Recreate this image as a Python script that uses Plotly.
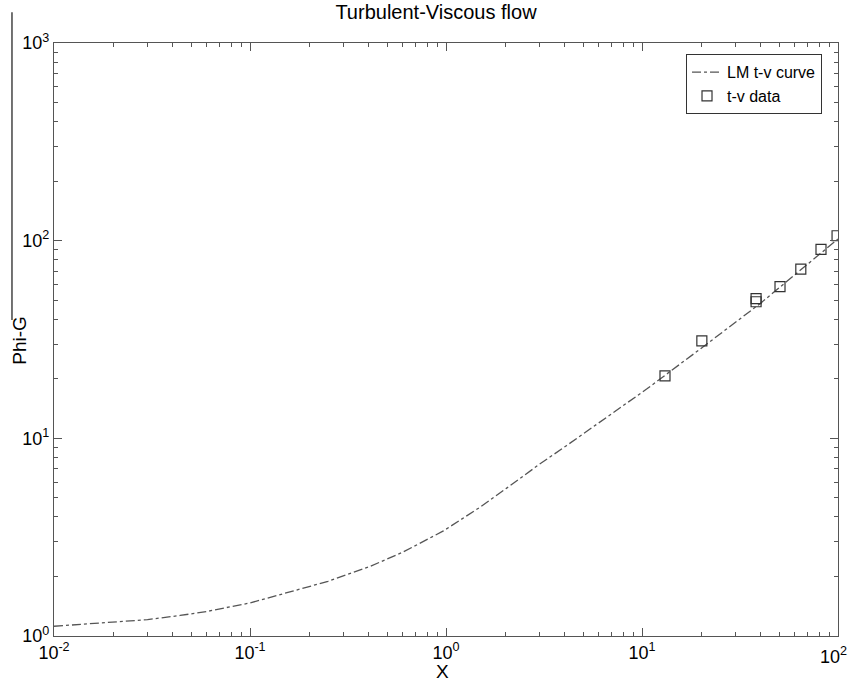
import plotly.graph_objects as go

# LM t-v curve
curve_x = [0.01, 0.02, 0.03, 0.044, 0.06, 0.1, 0.18, 0.25, 0.41, 0.6, 0.97, 1.5, 2.04, 3.0, 4.13, 6.0, 10.6, 20, 40, 100]
curve_y = [1.12, 1.17, 1.21, 1.27, 1.33, 1.47, 1.72, 1.89, 2.25, 2.65, 3.4, 4.5, 5.6, 7.4, 9.2, 12.0, 17.8, 28.5, 48, 102]

# t-v data
data_x = [13.1, 20.2, 38.2, 38.2, 50.6, 64.6, 81.9, 98.9]
data_y = [20.7, 31.1, 50.9, 49.1, 58.5, 71.8, 90.3, 105.9]

x_tickvals = [0.01, 0.1, 1, 10, 100]
x_ticktext = ["10<sup>-2</sup>", "10<sup>-1</sup>", "10<sup>0</sup>", "10<sup>1</sup>", ""]
x_last_label = "10<sup>2</sup>"
y_tickvals = [1, 10, 100, 1000]
y_ticktext = ["10<sup>0</sup>", "10<sup>1</sup>", "10<sup>2</sup>", "10<sup>3</sup>"]
x_minor = [m * d for d in [0.01, 0.1, 1, 10] for m in range(2, 10)]
y_minor = [m * d for d in [1, 10, 100] for m in range(2, 10)]

FONT = "Arial, Liberation Sans, Helvetica, sans-serif"
AX = "#555555"

fig = go.Figure()
fig.add_trace(go.Scatter(
    x=curve_x, y=curve_y, mode="lines", name="LM t-v curve",
    line=dict(color="#555555", width=1.3, dash="dashdot"),
))
fig.add_trace(go.Scatter(
    x=data_x, y=data_y, mode="markers", name="t-v data",
    marker=dict(symbol="square-open", size=10, color="#333333", line=dict(width=1.2)),
))

axis_common = dict(
    type="log", showgrid=False, zeroline=False, showline=True, linecolor=AX, linewidth=1.2,
    mirror="ticks", ticks="inside", ticklen=8, tickcolor=AX, tickwidth=1,
    tickfont=dict(family=FONT, size=18, color="black"), ticklabeloverflow="allow",
    automargin=False,
)

fig.update_xaxes(range=[-2, 2], tickmode="array", tickvals=x_tickvals, ticktext=x_ticktext,
                 minor=dict(tickmode="array", tickvals=x_minor, ticks="inside", ticklen=4,
                            tickcolor=AX, tickwidth=1, showgrid=False),
                 **axis_common)
fig.update_yaxes(range=[0, 3], tickmode="array", tickvals=y_tickvals, ticktext=y_ticktext,
                 minor=dict(tickmode="array", tickvals=y_minor, ticks="inside", ticklen=4,
                            tickcolor=AX, tickwidth=1, showgrid=False),
                 **axis_common)

fig.add_annotation(text=x_last_label, xref="paper", yref="paper", x=1.0 + 11/784, y=-0.01,
                   xanchor="right", yanchor="top", showarrow=False,
                   font=dict(family=FONT, size=18, color="black"))
fig.add_annotation(text="X", xref="paper", yref="paper", x=0.496, y=-0.0598,
                   xanchor="center", yanchor="middle", showarrow=False,
                   font=dict(family=FONT, size=19, color="black"))
fig.add_annotation(text="Phi-G", xref="paper", yref="paper", x=-0.0434, y=0.4996,
                   xanchor="center", yanchor="middle", showarrow=False, textangle=-90,
                   font=dict(family=FONT, size=19, color="black"))

fig.add_shape(type="line", xref="paper", yref="paper",
              x0=-0.0536, x1=-0.0536, y0=0.533, y1=1.052,
              line=dict(color="#444444", width=1.5))

fig.update_layout(
    width=850, height=683,
    margin=dict(l=54, r=12, t=43, b=47, autoexpand=False),
    paper_bgcolor="white", plot_bgcolor="white",
    title=dict(text="Turbulent-Viscous flow", x=436/850, xanchor="center", y=1-12/683, yanchor="middle",
               font=dict(family=FONT, size=20, color="black")),
    legend=dict(x=0.9796, xanchor="right", y=0.981, yanchor="top",
                bordercolor="#333333", borderwidth=1, bgcolor="white",
                font=dict(family=FONT, size=16, color="black"),
                itemwidth=30, tracegroupgap=0),
    showlegend=True,
)

fig.write_html("out.html")
